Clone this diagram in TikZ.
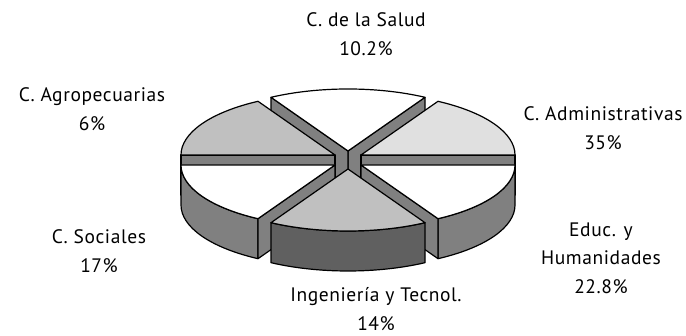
\documentclass[tikz,border=0pt]{standalone}
\usepackage{fontspec}
\setmainfont{PT Sans}[LetterSpace=3]
\usetikzlibrary{calc}
\definecolor{wallgray}{HTML}{808080}
\definecolor{darkwall}{HTML}{606060}
\definecolor{midgray}{HTML}{C0C0C0}
\definecolor{lightgray}{HTML}{E0E0E0}
\tikzset{
  pieline/.style={draw=black,line width=1.2pt,line join=round},
  lbl/.style={align=center,font=\fontsize{19.5}{28.5}\selectfont,inner sep=0pt}
}
\newcommand\pietop[4]{\draw[pieline,fill=#4] (#1) -- ($(#1)+(#2:154 and 62)$) arc[start angle=#2,end angle=#3,x radius=154,y radius=62] -- cycle;}
\newcommand\pieradial[2]{\draw[pieline,fill=wallgray] (#1) -- ($(#1)+(#2:154 and 62)$) -- ++(0,-40) -- ($(#1)+(0,-40)$) -- cycle;}
\newcommand\pieouter[4]{\draw[pieline,fill=#4] ($(#1)+(#2:154 and 62)$) arc[start angle=#2,end angle=#3,x radius=154,y radius=62] -- ++(0,-40) arc[start angle=#3,end angle=#2,x radius=154,y radius=62] -- cycle;}
\begin{document}
\begin{tikzpicture}[x=1pt,y=1pt]
\useasboundingbox (0,0) rectangle (686,336);
\fill[white] (0,0) rectangle (686,336);
\coordinate (cT) at (348,185);
\coordinate (cUL) at (335,181);
\coordinate (cUR) at (361,181);
\coordinate (cLL) at (335,171);
\coordinate (cLR) at (361,171);
\coordinate (cF) at (348,167);
% top slice
\pieradial{cT}{60}
\pieradial{cT}{120}
\pietop{cT}{60}{120}{white}
% upper left
\pieradial{cUL}{180}
\pietop{cUL}{120}{180}{midgray}
% upper right
\pieradial{cUR}{0}
\pietop{cUR}{0}{60}{lightgray}
% lower left
\pieouter{cLL}{180}{240}{wallgray}
\pieradial{cLL}{240}
\pietop{cLL}{180}{240}{white}
% lower right
\pieouter{cLR}{300}{360}{wallgray}
\pieradial{cLR}{300}
\pietop{cLR}{300}{360}{white}
% front
\pieouter{cF}{240}{300}{darkwall}
\pietop{cF}{240}{300}{midgray}
% labels
\node[lbl] (salud) at (366,302) {C. de la Salud\\10.2\%};
\node[lbl] (agro) at (92,227) {C. Agropecuarias\\6\%};
\node[lbl] (admin) at (603,208) {C. Administrativas\\35\%};
\node[lbl] (soc) at (99,85) {C. Sociales\\17\%};
\node[lbl] (educ) at (601,78) {Educ. y\\Humanidades\\22.8\%};
\node[lbl] (ing) at (376,27) {Ingeniería y Tecnol.\\14\%};
\end{tikzpicture}
\end{document}
